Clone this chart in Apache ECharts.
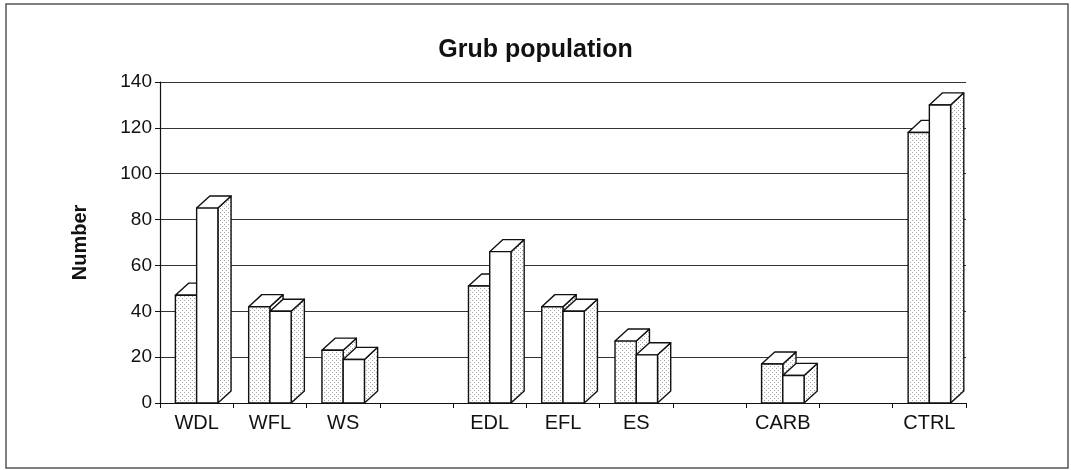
<!DOCTYPE html>
<html>
<head>
<meta charset="utf-8">
<script src="https://cdn.jsdelivr.net/npm/echarts@6/dist/echarts.min.js"></script>
<style>
  html, body { margin: 0; padding: 0; background: #fff; }
  #chart { width: 1071px; height: 470px; }
</style>
</head>
<body>
<div id="chart"></div>
<script>
// categories, blanks are the gaps between groups
var categories = ['WDL', 'WFL', 'WS', '', 'EDL', 'EFL', 'ES', '', 'CARB', '', 'CTRL'];
var firstValues = [47, 42, 23, null, 51, 42, 27, null, 17, null, 118];
var secondValues = [85, 40, 19, null, 66, 40, 21, null, 12, null, 130];
var yTicks = { min: 0, max: 140, step: 20 };

// stipple fill like the scanned print
var dots = document.createElement('canvas');
dots.width = 4;
dots.height = 4;
var dc = dots.getContext('2d');
dc.fillStyle = '#fff';
dc.fillRect(0, 0, 4, 4);
dc.fillStyle = '#a4a4a4';
dc.fillRect(0, 0, 1, 1);
dc.fillRect(2, 2, 1, 1);
var dotFill = { image: dots, repeat: 'repeat' };

function toData(arr) {
    return arr.map(function (v, i) { return [i, v]; }).filter(function (d) { return d[1] != null; });
}

// 3d column: front face, top face and right side
function makeRender(slot, frontFill) {
    return function (params, api) {
        var idx = api.value(0);
        var val = api.value(1);
        var base = api.coord([idx, 0]);
        var top = api.coord([idx, val]);
        var band = api.size([1, 0])[0];
        var w = band * 0.29;
        var x0 = base[0] - w + slot * w;
        var x1 = x0 + w;
        var dx = band * 0.18;
        var dy = band * 0.165;
        var line = { stroke: '#111', lineWidth: 1.4, lineJoin: 'round' };
        return {
            type: 'group',
            children: [
                {
                    type: 'polygon',
                    shape: { points: [[x1, base[1]], [x1 + dx, base[1] - dy], [x1 + dx, top[1] - dy], [x1, top[1]]] },
                    style: Object.assign({ fill: dotFill }, line)
                },
                {
                    type: 'polygon',
                    shape: { points: [[x0, top[1]], [x0 + dx, top[1] - dy], [x1 + dx, top[1] - dy], [x1, top[1]]] },
                    style: Object.assign({ fill: '#fff' }, line)
                },
                {
                    type: 'rect',
                    shape: { x: x0, y: top[1], width: w, height: base[1] - top[1] },
                    style: Object.assign({ fill: frontFill }, line)
                }
            ]
        };
    };
}

var myChart = echarts.init(document.getElementById('chart'));
var option = {
    backgroundColor: '#fff',
    animation: false,
    title: {
        text: 'Grub population',
        left: 'center',
        top: 33,
        textStyle: { fontFamily: 'Liberation Sans, Arial', fontSize: 25, fontWeight: 'bold', color: '#111' }
    },
    graphic: [
        {
            type: 'rect',
            shape: { x: 6, y: 4, width: 1062, height: 464 },
            style: { fill: null, stroke: '#555', lineWidth: 1.5 },
            silent: true
        }
    ],
    grid: { left: 160, right: 105, top: 82, bottom: 67 },
    xAxis: {
        type: 'category',
        data: categories,
        boundaryGap: true,
        axisLine: { lineStyle: { color: '#111', width: 1.2 } },
        axisTick: { show: true, interval: 0, length: 5, lineStyle: { color: '#111' } },
        axisLabel: { interval: 0, margin: 10, color: '#111', fontFamily: 'Liberation Sans, Arial', fontSize: 20 },
        splitLine: { show: false }
    },
    yAxis: {
        type: 'value',
        min: yTicks.min,
        max: yTicks.max,
        interval: yTicks.step,
        name: 'Number',
        nameLocation: 'middle',
        nameRotate: 90,
        nameGap: 70,
        nameTextStyle: { fontFamily: 'Liberation Sans, Arial', fontSize: 20, fontWeight: 'bold', color: '#111' },
        axisLine: { show: true, lineStyle: { color: '#111', width: 1.2 } },
        axisTick: { show: true, length: 5, lineStyle: { color: '#111' } },
        axisLabel: { margin: 8, color: '#111', fontFamily: 'Liberation Sans, Arial', fontSize: 19 },
        splitLine: { show: true, lineStyle: { color: '#333', width: 1.2 } }
    },
    series: [
        {
            name: 'first',
            type: 'custom',
            renderItem: makeRender(0, dotFill),
            encode: { x: 0, y: 1 },
            data: toData(firstValues),
            z: 3
        },
        {
            name: 'second',
            type: 'custom',
            renderItem: makeRender(1, '#fff'),
            encode: { x: 0, y: 1 },
            data: toData(secondValues),
            z: 4
        }
    ]
};
myChart.setOption(option);
</script>
</body>
</html>
